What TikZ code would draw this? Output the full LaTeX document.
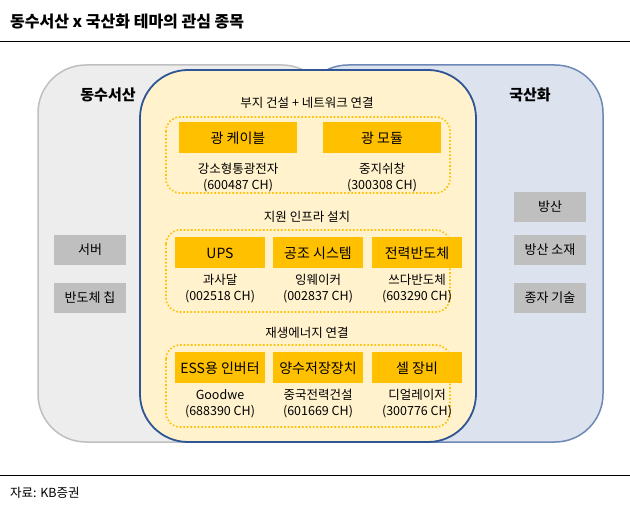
\documentclass[tikz,border=0pt]{standalone}
\usepackage{fontspec}
\setmainfont{Noto Sans CJK KR}
\usetikzlibrary{positioning}
\definecolor{boxorange}{RGB}{255,192,0}
\definecolor{paleyellow}{RGB}{255,242,204}
\definecolor{darkblue}{RGB}{47,85,151}
\definecolor{paleblue}{RGB}{220,227,238}
\definecolor{palegray}{RGB}{237,237,237}
\definecolor{midgray}{RGB}{191,191,191}
\tikzset{
  themebox/.style={fill=boxorange, minimum width=#1, minimum height=31pt, inner sep=0pt, font=\fontsize{14}{16}\selectfont},
  sidebox/.style={fill=midgray, minimum width=72pt, minimum height=30pt, inner sep=0pt, font=\fontsize{13}{15}\selectfont},
  stock/.style={align=center, font=\fontsize{12.5}{16}\selectfont, inner sep=0pt},
  grouplabel/.style={font=\fontsize{12.5}{14}\selectfont, inner sep=0pt},
  groupframe/.style={draw=boxorange, dotted, line width=1.6pt, rounded corners=14pt}
}
\begin{document}
\begin{tikzpicture}[x=1pt,y=-1pt]
    \useasboundingbox (0,0) rectangle (630,513);

    % title and rules
    \node[anchor=west, font=\bfseries\fontsize{16}{18}\selectfont, inner sep=0pt] (title) at (10,22) {동수서산 x 국산화 테마의 관심 종목};
    \draw[line width=1pt] (0,42) -- (630,42);
    \draw[line width=0.8pt] (0,475) -- (630,475);
    \node[anchor=west, font=\fontsize{12.5}{14}\selectfont, inner sep=0pt] (source) at (10,493) {자료: KB증권};

    % outer sets
    \draw[fill=palegray, draw=midgray, line width=1.5pt, rounded corners=48pt] (38,65) rectangle (330,442);
    \draw[fill=paleblue, draw=darkblue!70, line width=1.5pt, rounded corners=48pt] (300,65) rectangle (603,442);
    \draw[fill=paleyellow, draw=darkblue, line width=1.8pt, rounded corners=48pt] (140,70) rectangle (476,442);

    \node[font=\bfseries\fontsize{15}{17}\selectfont] (east) at (108,95) {동수서산};
    \node[font=\bfseries\fontsize{15}{17}\selectfont] (local) at (530,95) {국산화};

    % side boxes
    \node[sidebox] (server) at (90,250) {서버};
    \node[sidebox] (chip) at (90,298) {반도체 칩};
    \node[sidebox] (def) at (550,207) {방산};
    \node[sidebox] (defmat) at (550,250) {방산 소재};
    \node[sidebox] (seed) at (550,298) {종자 기술};

    % group 1
    \node[grouplabel] (g1) at (307,103) {부지 건설 + 네트워크 연결};
    \draw[groupframe] (166,117) rectangle (450,193);
    \node[themebox=118pt] (fiber) at (238,138) {광 케이블};
    \node[themebox=118pt] (module) at (382,138) {광 모듈};
    \node[stock] (fiberco) at (238,178) {강소형통광전자\\(600487 CH)};
    \node[stock] (moduleco) at (382,178) {중지쉬창\\(300308 CH)};

    % group 2
    \node[grouplabel] (g2) at (307,217) {지원 인프라 설치};
    \draw[groupframe] (166,230) rectangle (450,312);
    \node[themebox=90pt] (ups) at (220,253) {UPS};
    \node[themebox=90pt] (hvac) at (318,253) {공조 시스템};
    \node[themebox=90pt] (power) at (417,253) {전력반도체};
    \node[stock] (upsco) at (220,289) {과사달\\(002518 CH)};
    \node[stock] (hvacco) at (318,289) {잉웨이커\\(002837 CH)};
    \node[stock] (powerco) at (417,289) {쓰다반도체\\(603290 CH)};

    % group 3
    \node[grouplabel] (g3) at (307,333) {재생에너지 연결};
    \draw[groupframe] (166,345) rectangle (450,427);
    \node[themebox=90pt] (ess) at (220,368) {ESS용 인버터};
    \node[themebox=90pt] (pump) at (318,368) {양수저장장치};
    \node[themebox=90pt] (cell) at (417,368) {셀 장비};
    \node[stock] (essco) at (220,404) {Goodwe\\(688390 CH)};
    \node[stock] (pumpco) at (318,404) {중국전력건설\\(601669 CH)};
    \node[stock] (cellco) at (417,404) {디얼레이저\\(300776 CH)};
\end{tikzpicture}
\end{document}
